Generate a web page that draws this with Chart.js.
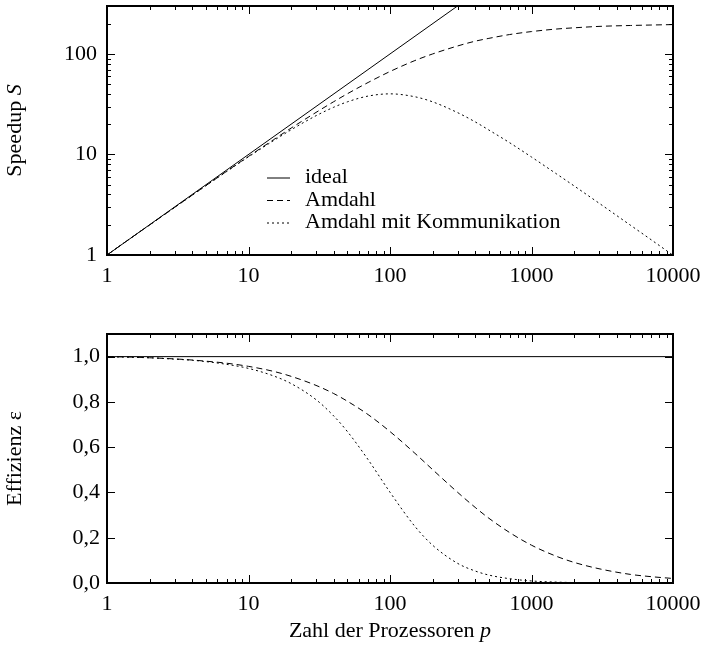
<!DOCTYPE html>
<html>
<head>
<meta charset="utf-8">
<script src="https://cdn.jsdelivr.net/npm/chart.js@4.4.0/dist/chart.umd.min.js"></script>
<style>
  html, body { margin: 0; padding: 0; background: #fff; }
  #wrap { position: relative; width: 705px; height: 654px; }
  canvas { position: absolute; left: 0; }
  #speedupChart { top: 0; }
  #effChart { top: 300px; }
</style>
</head>
<body>
<div id="wrap">
  <canvas id="speedupChart" width="705" height="300"></canvas>
  <canvas id="effChart" width="705" height="354"></canvas>
</div>
<script>
// values
const procCounts = [1, 1.5, 2, 3, 4, 5, 7, 10, 15, 20, 30, 40, 50, 70, 100, 150, 200, 300, 400, 500, 700, 1000, 1500, 2000, 3000, 5000, 7000, 10000];
const speedupAmdahl = [1.00, 1.50, 1.99, 2.97, 3.94, 4.90, 6.80, 9.57, 14.0, 18.3, 26.2, 33.5, 40.2, 52.0, 66.9, 86.0, 100, 120, 134, 143, 156, 167, 177, 182, 188, 192, 194, 196];
const speedupComm = [1.00, 1.50, 1.99, 2.97, 3.93, 4.89, 6.76, 9.48, 13.7, 17.6, 24.3, 29.5, 33.4, 38.1, 40.1, 37.5, 33.4, 26.1, 21.1, 17.5, 13.1, 9.43, 6.42, 4.87, 3.28, 1.98, 1.42, 0.995];
const effAmdahl = [1.000, 0.998, 0.995, 0.990, 0.985, 0.980, 0.971, 0.957, 0.935, 0.913, 0.873, 0.837, 0.803, 0.744, 0.669, 0.573, 0.501, 0.401, 0.334, 0.286, 0.223, 0.167, 0.118, 0.091, 0.063, 0.038, 0.028, 0.020];
const effComm = [1.000, 0.997, 0.995, 0.989, 0.984, 0.978, 0.966, 0.948, 0.915, 0.881, 0.810, 0.738, 0.669, 0.545, 0.401, 0.250, 0.167, 0.087, 0.053, 0.035, 0.019, 0.009, 0.004, 0.002, 0.001, 0.0004, 0.0002, 0.0001];
const idealProcs = [1, 10000];
const idealSpeedup = [1, 10000];
const idealEff = [1, 1];

const seriesNames = ["ideal", "Amdahl", "Amdahl mit Kommunikation"];
const xTickValues = [1, 10, 100, 1000, 10000];
const speedupTickValues = [1, 10, 100];
const effTickValues = [0, 0.2, 0.4, 0.6, 0.8, 1.0];

const FONT = '"Liberation Serif", "Times New Roman", serif';
const FONT_SIZE = 22;
const dashes = [[], [6, 4], [2, 3]];

const pts = (xs, ys) => xs.map((x, i) => ({ x: x, y: ys[i] }));

function line(label, data, idx) {
  return {
    label: label,
    data: data,
    borderColor: "#000",
    borderWidth: 1,
    borderDash: dashes[idx],
    pointRadius: 0,
    fill: false,
    cubicInterpolationMode: idx === 0 ? "default" : "monotone",
    tension: 0
  };
}

// minor ticks at 2..9 per decade
function logTickMarks(min, max) {
  const out = [];
  for (let d = 1; d <= max; d *= 10) {
    for (let m = 1; m <= 9; m++) {
      const v = m * d;
      if (v >= min && v <= max) out.push({ v: v, major: m === 1 });
    }
  }
  return out;
}

function drawMixed(ctx, parts, cx, cy, rotate) {
  ctx.save();
  ctx.translate(cx, cy);
  if (rotate) ctx.rotate(-Math.PI / 2);
  ctx.textBaseline = "middle";
  ctx.textAlign = "left";
  let w = 0;
  parts.forEach(p => {
    ctx.font = (p.italic ? "italic " : "") + FONT_SIZE + "px " + FONT;
    p.w = ctx.measureText(p.text).width;
    w += p.w;
  });
  let x = -w / 2;
  parts.forEach(p => {
    ctx.font = (p.italic ? "italic " : "") + FONT_SIZE + "px " + FONT;
    ctx.fillText(p.text, x, 0);
    x += p.w;
  });
  ctx.restore();
}

const framePlugin = {
  id: "frame",
  afterDraw(chart, args, opts) {
    const { ctx, chartArea: a, scales } = chart;
    const xs = scales.x, ys = scales.y;
    ctx.save();
    ctx.strokeStyle = "#000";
    ctx.fillStyle = "#000";
    ctx.lineWidth = 1;
    ctx.beginPath();
    logTickMarks(xs.min, xs.max).forEach(t => {
      const px = Math.round(xs.getPixelForValue(t.v)) + 0.5;
      const len = t.major ? 8 : 4;
      ctx.moveTo(px, a.bottom); ctx.lineTo(px, a.bottom - len);
      ctx.moveTo(px, a.top); ctx.lineTo(px, a.top + len);
    });
    const yMarks = opts.logY ? logTickMarks(ys.min, ys.max)
      : effTickValues.map(v => ({ v: v, major: true }));
    yMarks.forEach(t => {
      const py = Math.round(ys.getPixelForValue(t.v)) + 0.5;
      const len = t.major ? 8 : 4;
      ctx.moveTo(a.left, py); ctx.lineTo(a.left + len, py);
      ctx.moveTo(a.right, py); ctx.lineTo(a.right - len, py);
    });
    ctx.stroke();
    ctx.lineWidth = 2;
    ctx.strokeRect(a.left, a.top, a.right - a.left, a.bottom - a.top);

    if (opts.legend) {
      const L = opts.legend;
      seriesNames.forEach((name, i) => {
        const y = L.y + i * L.step;
        ctx.lineWidth = 1;
        ctx.setLineDash(dashes[i]);
        ctx.beginPath();
        ctx.moveTo(L.x, y + 0.5); ctx.lineTo(L.x + 23, y + 0.5);
        ctx.stroke();
        ctx.setLineDash([]);
        ctx.font = FONT_SIZE + "px " + FONT;
        ctx.textBaseline = "middle";
        ctx.textAlign = "left";
        ctx.fillText(name, L.x + 38, y);
      });
    }
    if (opts.yTitle) drawMixed(ctx, opts.yTitle, 15, (a.top + a.bottom) / 2, true);
    if (opts.xTitle) drawMixed(ctx, opts.xTitle, (a.left + a.right) / 2, opts.xTitleY, false);
    ctx.restore();
  }
};

function xScale(height) {
  return {
    type: "logarithmic",
    min: 1,
    max: 10000,
    grid: { display: false, drawTicks: false },
    border: { display: false },
    ticks: {
      color: "#000",
      font: { family: FONT, size: FONT_SIZE },
      padding: 8,
      autoSkip: false,
      maxRotation: 0,
      callback: v => String(v)
    },
    afterBuildTicks: s => { s.ticks = xTickValues.map(v => ({ value: v })); },
    afterFit: s => { s.height = height; s.paddingLeft = 0; s.paddingRight = 0; }
  };
}

function yFit(s) { s.width = 107; s.paddingTop = 0; s.paddingBottom = 0; }

const common = {
  responsive: false,
  animation: false,
  devicePixelRatio: 1,
  events: []
};

new Chart(document.getElementById("speedupChart"), {
  type: "line",
  data: {
    datasets: [
      line(seriesNames[0], pts(idealProcs, idealSpeedup), 0),
      line(seriesNames[1], pts(procCounts, speedupAmdahl), 1),
      line(seriesNames[2], pts(procCounts, speedupComm), 2)
    ]
  },
  options: Object.assign({}, common, {
    layout: { padding: { top: 6, right: 32, left: 0, bottom: 0 } },
    scales: {
      x: xScale(45),
      y: {
        type: "logarithmic",
        min: 1,
        max: 300,
        grid: { display: false, drawTicks: false },
        border: { display: false },
        ticks: {
          color: "#000",
          font: { family: FONT, size: FONT_SIZE },
          padding: 10,
          autoSkip: false,
          callback: v => String(v)
        },
        afterBuildTicks: s => { s.ticks = speedupTickValues.map(v => ({ value: v })); },
        afterFit: yFit
      }
    },
    plugins: {
      legend: { display: false },
      tooltip: { enabled: false },
      frame: {
        logY: true,
        legend: { x: 267, y: 177.5, step: 22.5 },
        yTitle: [{ text: "Speedup " }, { text: "S", italic: true }]
      }
    }
  }),
  plugins: [framePlugin]
});

new Chart(document.getElementById("effChart"), {
  type: "line",
  data: {
    datasets: [
      line(seriesNames[0], pts(idealProcs, idealEff), 0),
      line(seriesNames[1], pts(procCounts, effAmdahl), 1),
      line(seriesNames[2], pts(procCounts, effComm), 2)
    ]
  },
  options: Object.assign({}, common, {
    layout: { padding: { top: 34, right: 32, left: 0, bottom: 0 } },
    scales: {
      x: xScale(71),
      y: {
        type: "linear",
        min: 0,
        max: 1.1,
        grid: { display: false, drawTicks: false },
        border: { display: false },
        ticks: {
          color: "#000",
          font: { family: FONT, size: FONT_SIZE },
          padding: 7,
          autoSkip: false,
          callback: v => v.toFixed(1).replace(".", ",")
        },
        afterBuildTicks: s => { s.ticks = effTickValues.map(v => ({ value: v })); },
        afterFit: yFit
      }
    },
    plugins: {
      legend: { display: false },
      tooltip: { enabled: false },
      frame: {
        logY: false,
        yTitle: [{ text: "Effizienz ε" }],
        xTitle: [{ text: "Zahl der Prozessoren " }, { text: "p", italic: true }],
        xTitleY: 331
      }
    }
  }),
  plugins: [framePlugin]
});
</script>
</body>
</html>
